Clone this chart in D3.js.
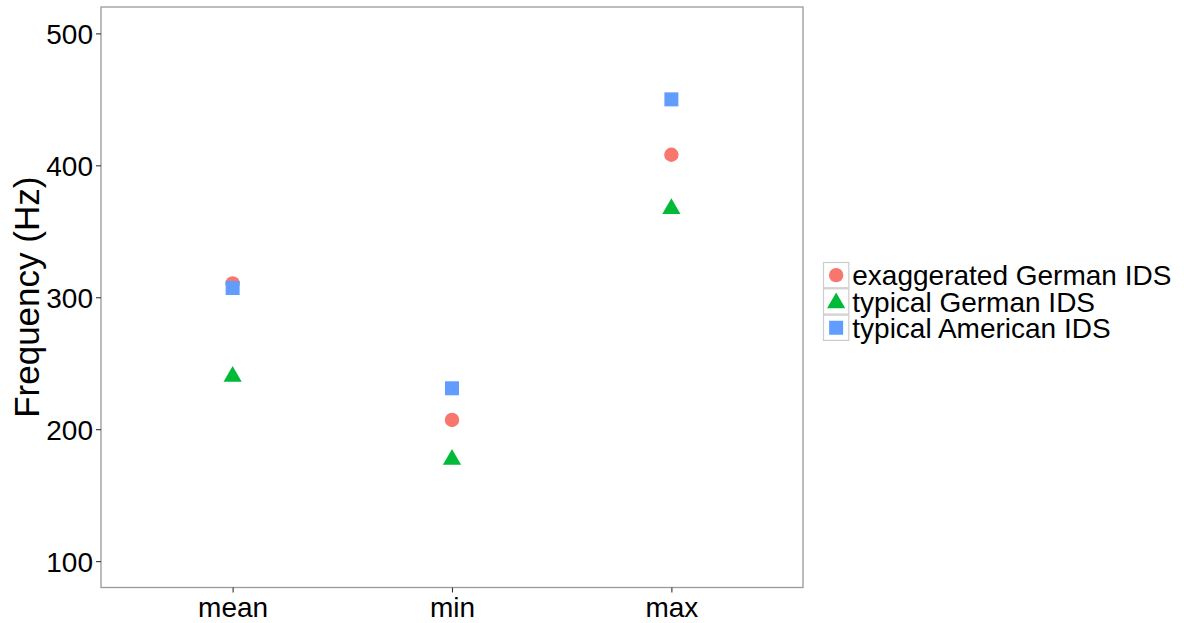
<!DOCTYPE html>
<html>
<head>
<meta charset="utf-8">
<script src="https://cdn.jsdelivr.net/npm/d3@7"></script>
<style>
  html, body { margin: 0; padding: 0; background: #fff; }
  svg { display: block; font-family: "Liberation Sans", Arial, sans-serif; }
</style>
</head>
<body>
<svg id="chart" width="1184" height="623"></svg>
<script>
// Pitch measures (x categories)
const measures = ["mean", "min", "max"];
// Speech styles (legend order)
const styles = ["exaggerated German IDS", "typical German IDS", "typical American IDS"];
const styleColors = ["#F8766D", "#00BA38", "#619CFF"];
const styleShapes = ["circle", "triangle", "square"];
// Frequency (Hz) per style, in the order of `measures`
const exaggeratedGerman = [310.5, 207, 408];
const typicalGerman = [240, 177, 367];
const typicalAmerican = [307, 231, 450];
const yTicks = [100, 200, 300, 400, 500];

const seriesValues = [exaggeratedGerman, typicalGerman, typicalAmerican];
const points = [];
styles.forEach((s, i) => {
  measures.forEach((m, j) => points.push({ style: s, idx: i, measure: m, value: seriesValues[i][j] }));
});

const svg = d3.select("#chart");
const panel = { left: 101, right: 803, top: 7, bottom: 587.5 };

const x = d3.scalePoint().domain(measures)
  .range([panel.left, panel.right]).padding(0.6);
const y = d3.scaleLinear().domain([80, 520]).range([panel.bottom, panel.top]);

// Panel frame
svg.append("rect")
  .attr("x", panel.left).attr("y", panel.top)
  .attr("width", panel.right - panel.left).attr("height", panel.bottom - panel.top)
  .attr("fill", "#fff").attr("stroke", "#9a9a9a").attr("stroke-width", 1.3);

// Axes
const yAxis = svg.append("g")
  .attr("transform", `translate(${panel.left},0)`)
  .call(d3.axisLeft(y).tickValues(yTicks).tickSize(5).tickPadding(3));
const xAxis = svg.append("g")
  .attr("transform", `translate(0,${panel.bottom})`)
  .call(d3.axisBottom(x).tickSize(5).tickPadding(3));
[yAxis, xAxis].forEach(g => {
  g.select(".domain").remove();
  g.selectAll(".tick line").attr("stroke", "#333").attr("stroke-width", 1.1);
  g.selectAll(".tick text").attr("fill", "#000")
    .style("font-size", "28px").style("font-family", "'Liberation Sans', Arial, sans-serif");
});
yAxis.selectAll(".tick text").attr("dy", "0.36em");
xAxis.selectAll(".tick text").attr("dy", "0.78em");

// Y axis title
svg.append("text")
  .attr("transform", `translate(39,${(panel.top + panel.bottom) / 2}) rotate(-90)`)
  .attr("text-anchor", "middle")
  .style("font-size", "35px")
  .attr("fill", "#000")
  .text("Frequency (Hz)");

// Marker drawing
function shapePath(shape) {
  if (shape === "circle") return d3.symbol(d3.symbolCircle, Math.PI * 7.2 * 7.2)();
  if (shape === "square") return d3.symbol(d3.symbolSquare, 14 * 14)();
  // triangle: apex r above centre, base r/2 below
  const r = 10.5, h = r * Math.sqrt(3) / 2;
  return `M0,${-r}L${h},${r / 2}L${-h},${r / 2}Z`;
}

svg.append("g").selectAll("path").data(points).join("path")
  .attr("transform", d => `translate(${x(d.measure)},${y(d.value)})`)
  .attr("d", d => shapePath(styleShapes[d.idx]))
  .attr("fill", d => styleColors[d.idx]);

// Legend
const legend = svg.append("g").attr("transform", "translate(823,262)");
const keySize = 26.3;
styles.forEach((s, i) => {
  const row = legend.append("g").attr("transform", `translate(0,${i * keySize})`);
  row.append("rect").attr("x", 0.5).attr("y", 0.5)
    .attr("width", keySize - 1).attr("height", keySize - 1)
    .attr("fill", "#fff").attr("stroke", "#cccccc").attr("stroke-width", 1.2);
  row.append("path")
    .attr("transform", `translate(${keySize / 2},${keySize / 2 + (styleShapes[i] === "triangle" ? 1.5 : 0)})`)
    .attr("d", shapePath(styleShapes[i]))
    .attr("fill", styleColors[i]);
  row.append("text")
    .attr("x", keySize + 3).attr("y", keySize / 2)
    .attr("dy", "0.36em")
    .style("font-size", "28px")
    .attr("fill", "#000")
    .text(s);
});
</script>
</body>
</html>
